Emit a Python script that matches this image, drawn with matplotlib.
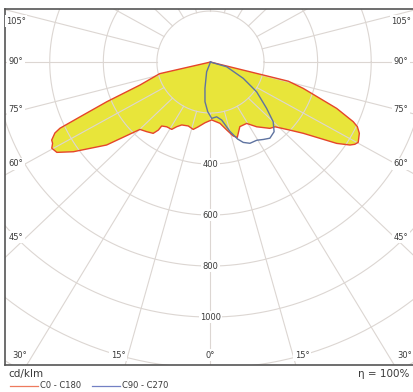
import numpy as np
import matplotlib
matplotlib.use("Agg")
import matplotlib.pyplot as plt
from matplotlib.lines import Line2D

# C0 - C180 (negative angles = C180 side), angle from nadir in degrees, cd/klm
red_angle = [-90, -76.5, -71.1, -68.1, -66.2, -65.2, -64.4, -62.7, -61.6, -60.3,
             -58.3, -55.5, -50.0, -44.9, -41.0, -37.4, -36.1, -36.0, -32.8, -28.7,
             -26.4, -23.5, -18.3, -13.7, -10.2, -4.9, 1.1, 8.4, 12.8, 16.3,
             18.7, 23.4, 29.3, 34.2, 40.5, 43.5, 48.0, 51.1, 55.9, 58.0,
             59.1, 60.3, 63.3, 65.2, 66.3, 68.9, 73.4, 75.5, 90]
red_cd = [0, 195, 278, 417, 532, 619, 644, 667, 670, 682,
          674, 621, 506, 373, 362, 352, 330, 310, 302, 301,
          283, 269, 264, 272, 258, 239, 227, 243, 273, 302,
          312, 276, 276, 307, 342, 350, 399, 445, 569, 614,
          628, 635, 622, 604, 582, 505, 361, 300, 0]

# C90 - C270
blue_angle = [-90, -20.5, -11.3, -7.5, -3.0, 1.2, 6.1, 10.4, 15.0, 18.5,
              21.2, 24.8, 29.4, 33.0, 36.6, 41.0, 45.0, 49.1, 55.9, 62.4, 73.0, 90]
blue_cd = [0, 41, 105, 157, 195, 221, 216, 231, 282, 318,
           338, 351, 352, 362, 372, 362, 331, 277, 208, 138, 63, 0]

rings = [200, 400, 600, 800, 1000, 1200, 1400]
ring_labels = [400, 600, 800, 1000]
spokes = np.arange(0, 360, 15)

# angle labels (text, pixel position)
side_labels = ["105°", "90°", "75°", "60°", "45°"]
side_y = [21, 62, 110, 164, 237]
bottom_labels = ["30°", "15°", "0°", "15°", "30°"]
bottom_x = [20, 118, 210, 302, 405]

W, H = 413, 392
grid_col = "#dcd6d2"
txt_col = "#3a3a3a"


def to_xy(ang, cd):
    a = np.radians(np.asarray(ang, float))
    r = np.asarray(cd, float)
    return r * np.sin(a), -r * np.cos(a)


fig = plt.figure(figsize=(W / 100, H / 100), dpi=100)
fig.patch.set_facecolor("white")
ax = fig.add_axes([5 / W, (H - 365) / H, 408 / W, 356 / H])
ax.set_xlim(-767, 756)
ax.set_ylim(-1188, 208)
ax.set_xticks([])
ax.set_yticks([])
for s in ["left", "top", "bottom"]:
    ax.spines[s].set_color("#555555")
    ax.spines[s].set_linewidth(1.2)
ax.spines["right"].set_visible(False)

# grid
t = np.linspace(0, 2 * np.pi, 400)
for r in rings:
    ax.plot(r * np.cos(t), r * np.sin(t), color=grid_col, lw=0.8, zorder=2)
for s in spokes:
    x0, y0 = to_xy(s, 200)
    x1, y1 = to_xy(s, 3000)
    ax.plot([x0, x1], [y0, y1], color=grid_col, lw=0.8, zorder=2)

# curves
rx, ry = to_xy(red_angle, red_cd)
ax.fill(rx, ry, color="#e8e53a", zorder=1, lw=0)
ax.plot(rx, ry, color="#e5452a", lw=1.0, zorder=3)
bx, by = to_xy(blue_angle, blue_cd)
ax.plot(bx, by, color="#5f73a0", lw=1.0, zorder=4)

# ring labels
for v in ring_labels:
    ax.text(0, -v, str(v), ha="center", va="center", fontsize=6, color=txt_col,
            zorder=5, bbox=dict(boxstyle="square,pad=0.15", fc="white", ec="none"))

# angle labels
for lab, y in zip(side_labels, side_y):
    for x in (16, 401):
        fig.text(x / W, 1 - y / H, lab, ha="center", va="center", fontsize=6,
                 color=txt_col, zorder=5,
                 bbox=dict(boxstyle="square,pad=0.15", fc="white", ec="none"))
for lab, x in zip(bottom_labels, bottom_x):
    fig.text(x / W, 1 - 355 / H, lab, ha="center", va="center", fontsize=6,
             color=txt_col, zorder=5,
             bbox=dict(boxstyle="square,pad=0.15", fc="white", ec="none"))

# footer
fig.text(8 / W, 1 - 374 / H, "cd/klm", ha="left", va="center", fontsize=7.5, color=txt_col)
fig.text(409 / W, 1 - 374 / H, "η = 100%", ha="right", va="center", fontsize=7.5, color=txt_col)
fig.add_artist(Line2D([10 / W, 38 / W], [1 - 386 / H] * 2, color="#ee7a5e", lw=0.9))
fig.text(40 / W, 1 - 386 / H, "C0 - C180", ha="left", va="center", fontsize=6, color=txt_col)
fig.add_artist(Line2D([92 / W, 120 / W], [1 - 386 / H] * 2, color="#7380c4", lw=0.9))
fig.text(122 / W, 1 - 386 / H, "C90 - C270", ha="left", va="center", fontsize=6, color=txt_col)

fig.savefig("out.png", dpi=100)
